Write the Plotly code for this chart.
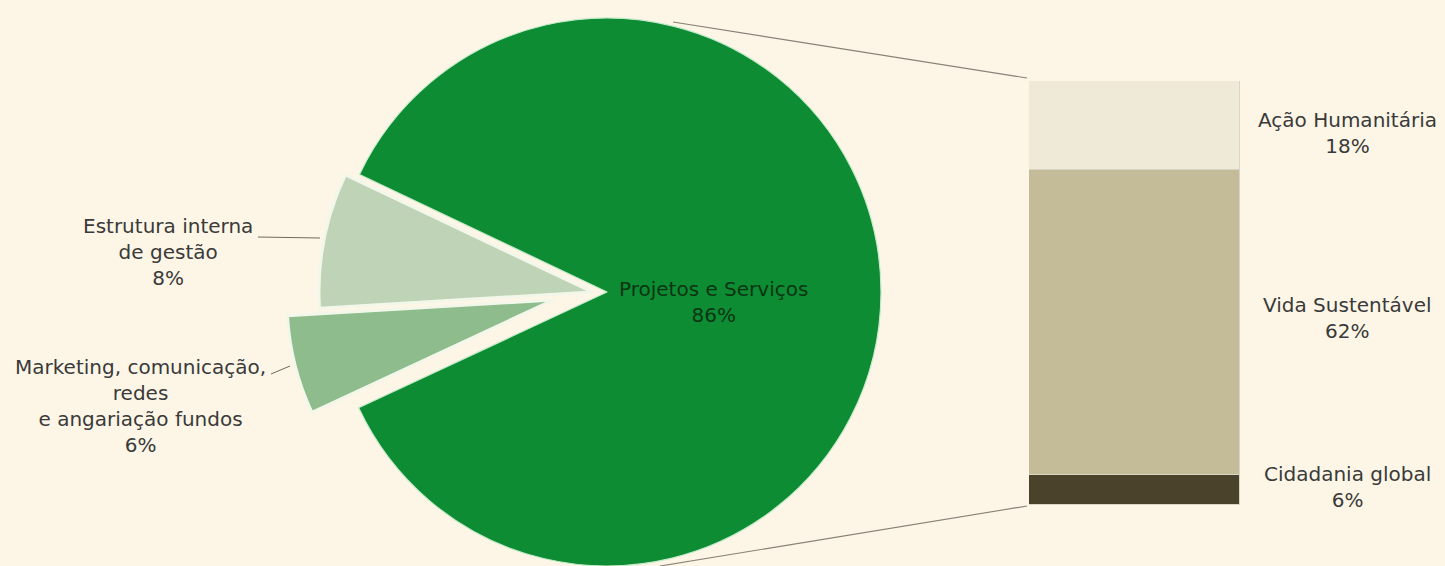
import plotly.graph_objects as go

# ---- data -------------------------------------------------------------
pie_labels = [
    "Marketing, comunicação,<br>redes<br>e angariação fundos",
    "Estrutura interna<br>de gestão",
    "Projetos e Serviços",
]
pie_values = [6, 8, 86]

bar_labels = ["Cidadania global", "Vida Sustentável", "Ação Humanitária"]
bar_values = [6, 62, 18]

# ---- styling ----------------------------------------------------------
W, H = 1445, 566
BG = "#fdf6e6"
FONT = "DejaVu Sans"
pie_colors = ["#8fbc8c", "#bfd4b6", "#0d8c33"]
bar_colors = ["#4a422b", "#c4bb98", "#efe9d8"]

# each slice gets its own pie trace so the two small slices can be
# detached from the main pie: (center x px, center y px, radius px)
slice_geom = [(553, 300, 266), (592, 292, 273), (607, 292, 274)]
slice_line = [("#f3f7ea", 3), ("#f3f7ea", 3), ("#c6ebcc", 1.2)]

# label placement (paper px) for the pie slices
pie_label_pos = [(140, 406), (168, 252), (713, 302)]
pie_label_color = ["#3a3a3a", "#3a3a3a", "#0b3512"]
pie_label_size = [20, 20, 20]

# bar placement (px)
BAR_X0, BAR_X1, BAR_TOP, BAR_BOT = 1029, 1240, 81, 505
BAR_LABEL_X = 1347
bar_label_yshift = [3, 5, -8]


def px_x(x):
    return x / W


def px_y(y):
    return (H - y) / H


fig = go.Figure()

# big slice first, then the detached ones on top
for i in [2, 1, 0]:
    cx, cy, r = slice_geom[i]
    colors = ["rgba(0,0,0,0)"] * len(pie_values)
    lcolors = ["rgba(0,0,0,0)"] * len(pie_values)
    lwidths = [0] * len(pie_values)
    colors[i] = pie_colors[i]
    lcolors[i] = slice_line[i][0]
    lwidths[i] = slice_line[i][1]
    fig.add_trace(go.Pie(
        labels=pie_labels,
        values=pie_values,
        sort=False,
        direction="clockwise",
        rotation=245,
        marker=dict(colors=colors, line=dict(color=lcolors, width=lwidths)),
        textinfo="none",
        hoverinfo="skip",
        showlegend=False,
        domain=dict(x=[px_x(cx - r), px_x(cx + r)],
                    y=[max(0, px_y(cy + r)), min(1, px_y(cy - r))]),
    ))

# stacked bar breaking down "Projetos e Serviços"
for lab, val, col in zip(bar_labels, bar_values, bar_colors):
    fig.add_trace(go.Bar(
        x=[0], y=[val], name=lab, width=1,
        marker=dict(color=col, line=dict(color="#d9d4c3", width=1.5)),
        hoverinfo="skip", showlegend=False,
    ))

annotations = []
for lab, val, (lx, ly), col, fs in zip(pie_labels, pie_values, pie_label_pos,
                                       pie_label_color, pie_label_size):
    annotations.append(dict(
        x=px_x(lx), y=px_y(ly), xref="paper", yref="paper",
        text=f"{lab}<br>{val}%", showarrow=False,
        xanchor="center", yanchor="middle", align="center",
        font=dict(family=FONT, size=fs, color=col),
    ))

cum = 0
for lab, val, ys in zip(bar_labels, bar_values, bar_label_yshift):
    annotations.append(dict(
        x=px_x(BAR_LABEL_X), y=cum + val / 2, xref="paper", yref="y",
        text=f"{lab}<br>{val}%", showarrow=False, yshift=ys,
        xanchor="center", yanchor="middle", align="center",
        font=dict(family=FONT, size=20, color="#3a3a3a"),
    ))
    cum += val

line_style = dict(color="#8a8078", width=1.2)
shapes = [
    # connectors from the bar to the main slice
    dict(type="line", xref="paper", yref="paper",
         x0=px_x(1027), y0=px_y(78), x1=px_x(673), y1=px_y(22), line=line_style),
    dict(type="line", xref="paper", yref="paper",
         x0=px_x(1027), y0=px_y(506), x1=px_x(660), y1=px_y(566), line=line_style),
    # label leader lines
    dict(type="line", xref="paper", yref="paper",
         x0=px_x(258), y0=px_y(237), x1=px_x(320), y1=px_y(238),
         line=dict(color="#6f6a60", width=1)),
    dict(type="line", xref="paper", yref="paper",
         x0=px_x(271), y0=px_y(374), x1=px_x(290), y1=px_y(366),
         line=dict(color="#6f6a60", width=1)),
]

fig.update_layout(
    width=W, height=H,
    margin=dict(l=0, r=0, t=0, b=0),
    paper_bgcolor=BG, plot_bgcolor=BG,
    barmode="stack", bargap=0,
    xaxis=dict(domain=[px_x(BAR_X0), px_x(BAR_X1)], range=[-0.5, 0.5],
               visible=False, fixedrange=True),
    yaxis=dict(domain=[px_y(BAR_BOT), px_y(BAR_TOP)], range=[0, sum(bar_values)],
               visible=False, fixedrange=True),
    annotations=annotations,
    shapes=shapes,
    font=dict(family=FONT),
)

fig.write_html("out.html")
